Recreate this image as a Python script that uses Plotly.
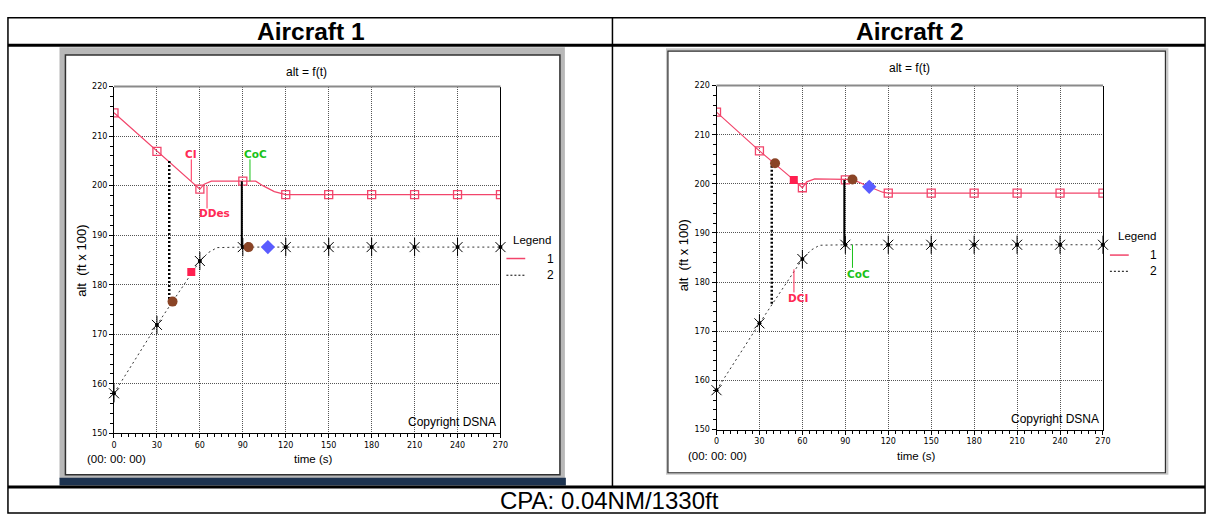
import plotly.graph_objects as go

W, H = 1219, 520

# ---------------- data (time in s, altitude in ft x 100) ----------------
t_marks = [0, 30, 60, 90, 120, 150, 180, 210, 240, 270]
x_ticks = [0, 30, 60, 90, 120, 150, 180, 210, 240, 270]
y_ticks = [150, 160, 170, 180, 190, 200, 210, 220]

# Aircraft 1 panel
ac1_s1_marks = [214.7, 206.9, 199.3, 200.9, 198.2, 198.2, 198.2, 198.2, 198.2, 198.2]
ac1_s1_path_t = [0, 30, 60, 63, 68, 90, 99, 104, 112, 120, 270]
ac1_s1_path = [214.7, 206.9, 199.3, 200.3, 200.9, 200.9, 200.9, 200.0, 198.8, 198.2, 198.2]
ac1_s2_marks = [158.1, 171.9, 184.8, 187.6, 187.6, 187.6, 187.6, 187.6, 187.6, 187.6]
ac1_s2_path_t = [0, 30, 60, 66, 72, 90, 270]
ac1_s2_path = [158.1, 171.9, 184.8, 186.5, 187.5, 187.6, 187.6]
ac1_brown_t = [40.9, 94.0]
ac1_brown_alt = [176.6, 187.6]
ac1_red_t = [54.0]
ac1_red_alt = [182.6]
ac1_blue_t = [107.5]
ac1_blue_alt = [187.6]
ac1_sep_dot = (38.6, 176.3, 205.2)
ac1_sep_solid = (89.3, 187.6, 200.9)
ac1_labels = [
    # text, colour, text t, text alt, leader t, leader from, leader to
    ("CI", "#ff2a55", 53.5, 206.4, 54.0, 201.0, 205.3),
    ("CoC", "#19c219", 99.0, 206.4, 95.0, 200.9, 205.3),
    ("DDes", "#ff2a55", 70.0, 194.4, 65.0, 199.9, 195.4),
]

# Aircraft 2 panel
ac2_s1_marks = [214.6, 206.7, 199.2, 200.8, 198.1, 198.1, 198.1, 198.1, 198.1, 198.1]
ac2_s1_path_t = [0, 30, 54, 60, 63, 68.6, 90, 95, 106.7, 116, 120, 270]
ac2_s1_path = [214.6, 206.7, 200.8, 199.2, 200.4, 201.0, 200.9, 200.9, 199.4, 198.3, 198.1, 198.1]
ac2_s2_marks = [158.0, 171.6, 184.7, 187.6, 187.6, 187.6, 187.6, 187.6, 187.6, 187.6]
ac2_s2_path_t = [0, 30, 60, 66, 72, 90, 270]
ac2_s2_path = [158.0, 171.6, 184.7, 186.5, 187.5, 187.6, 187.6]
ac2_brown_t = [40.9, 95.0]
ac2_brown_alt = [204.2, 200.9]
ac2_red_t = [54.0]
ac2_red_alt = [200.8]
ac2_blue_t = [106.7]
ac2_blue_alt = [199.4]
ac2_sep_dot = (38.6, 175.6, 203.8)
ac2_sep_solid = (89.3, 187.6, 200.8)
ac2_labels = [
    ("DCI", "#ff2a55", 56.7, 176.7, 54.1, 182.6, 177.9),
    ("CoC", "#19c219", 99.0, 181.7, 95.0, 187.6, 182.9),
]

RED = "#f2456b"
BROWN = "#8a4426"
BLUE = "#5a5cff"
SQ_RED = "#ff1f4f"


def px(x):
    return x / W


def py(y):
    return 1 - y / H


fig = go.Figure()


def add_panel(n, dom_x, dom_y, s1_marks, s1_pt, s1_p, s2_marks, s2_pt, s2_p,
              brown_t, brown_a, red_t, red_a, blue_t, blue_a, sep_dot, sep_solid, labels):
    xa = "x" if n == 1 else "x%d" % n
    ya = "y" if n == 1 else "y%d" % n
    kw = dict(xaxis=xa, yaxis=ya, showlegend=False, hoverinfo="skip")

    # series 2: dotted path with asterisk markers
    fig.add_trace(go.Scatter(x=s2_pt, y=s2_p, mode="lines",
                             line=dict(color="#333333", width=1, dash="2px,3px"), **kw))
    for sym, size in (("x-thin-open", 10), ("line-ns-open", 13)):
        fig.add_trace(go.Scatter(x=t_marks, y=s2_marks, mode="markers", cliponaxis=False,
                                 marker=dict(symbol=sym, size=size, color="black",
                                             line=dict(color="black", width=1)), **kw))
    fig.add_trace(go.Scatter(x=t_marks, y=s2_marks, mode="markers", cliponaxis=False,
                             marker=dict(symbol="circle", size=4, color="black"), **kw))

    # series 1: solid path with open squares
    fig.add_trace(go.Scatter(x=s1_pt, y=s1_p, mode="lines",
                             line=dict(color=RED, width=1.2), **kw))
    fig.add_trace(go.Scatter(x=t_marks, y=s1_marks, mode="markers",
                             marker=dict(symbol="square-open", size=8, color=RED,
                                         line=dict(color=RED, width=1.3)), **kw))

    # vertical separations
    fig.add_trace(go.Scatter(x=[sep_dot[0], sep_dot[0]], y=[sep_dot[1], sep_dot[2]], mode="lines",
                             line=dict(color="black", width=2.5, dash="2px,2px"), **kw))
    fig.add_trace(go.Scatter(x=[sep_solid[0], sep_solid[0]], y=[sep_solid[1], sep_solid[2]],
                             mode="lines", line=dict(color="black", width=2), **kw))

    # event markers
    fig.add_trace(go.Scatter(x=red_t, y=red_a, mode="markers",
                             marker=dict(symbol="square", size=8, color=SQ_RED), **kw))
    fig.add_trace(go.Scatter(x=brown_t, y=brown_a, mode="markers",
                             marker=dict(symbol="circle", size=10, color=BROWN), **kw))
    fig.add_trace(go.Scatter(x=blue_t, y=blue_a, mode="markers",
                             marker=dict(symbol="diamond", size=11, color=BLUE), **kw))

    # labelled events with leader lines
    for text, col, tx, ta, lt, l0, l1 in labels:
        fig.add_trace(go.Scatter(x=[lt, lt], y=[l0, l1], mode="lines",
                                 line=dict(color=col, width=1), **kw))
        fig.add_annotation(x=tx, y=ta, xref=xa, yref=ya, text="<b>%s</b>" % text,
                           showarrow=False,
                           font=dict(family="DejaVu Sans", size=10.5, color=col))

    axis_common = dict(
        showline=True, linecolor="black", linewidth=1,
        ticks="outside", ticklen=4, tickcolor="black", tickwidth=1,
        showgrid=True, gridcolor="#555555", griddash="1px,1px", gridwidth=1,
        zeroline=False, fixedrange=True,
        tickfont=dict(family="DejaVu Sans", size=8, color="black"),
    )
    fig.update_layout({
        ("xaxis" if n == 1 else "xaxis%d" % n): dict(
            domain=dom_x, range=[0, 270], tickmode="array", tickvals=x_ticks,
            anchor=ya, minor=dict(tick0=0, dtick=5, ticks="outside", ticklen=3,
                                  tickcolor="black", showgrid=False),
            **axis_common),
        ("yaxis" if n == 1 else "yaxis%d" % n): dict(
            domain=dom_y, range=[150, 220], tickmode="array", tickvals=y_ticks,
            anchor=xa, mirror=True,
            minor=dict(tick0=150, dtick=2, ticks="outside", ticklen=3,
                       tickcolor="black", showgrid=False),
            **axis_common),
    })


# plot-area pixel boxes
L = dict(x0=112, x1=502, y0=84, y1=437)
R = dict(x0=720, x1=1110, y0=83, y1=433)

shapes = []


def box(x0, y0, x1, y1, **kw):
    shapes.append(dict(type="rect", xref="paper", yref="paper",
                       x0=px(x0), x1=px(x1), y0=py(y0), y1=py(y1), **kw))


def seg(x0, y0, x1, y1, **kw):
    shapes.append(dict(type="line", xref="paper", yref="paper",
                       x0=px(x0), x1=px(x1), y0=py(y0), y1=py(y1), **kw))


# left window
box(57, 44, 567, 483, fillcolor="#b8b8b8", line=dict(width=0), layer="below")
box(63, 52, 562, 479, fillcolor="white", line=dict(color="#303030", width=1.5), layer="below")
box(57, 482, 568, 490, fillcolor="#1d3350", line=dict(width=0), layer="below")
# right window
box(669, 45, 1176, 479, fillcolor="#c8c8c8", line=dict(width=0), layer="below")
box(671, 48, 1173, 477, fillcolor="white", line=dict(color="#303030", width=1.2), layer="below")

# table lines
box(5, 14, 1213, 518, line=dict(color="black", width=1.5))
seg(5, 42, 1213, 42, line=dict(color="black", width=3))
seg(5, 491.5, 1213, 491.5, line=dict(color="black", width=3))
seg(615, 14, 615, 491, line=dict(color="black", width=1.5))

# gray top frame lines of the plot areas
for B in (L, R):
    seg(B["x0"], B["y0"], B["x1"], B["y0"], line=dict(color="#8a8a8a", width=2))

# legend keys
for lx, ly1, ly2 in ((508, 259, 276), (1117, 255.5, 272)):
    seg(lx, ly1, lx + 19, ly1, line=dict(color=RED, width=1.5))
    seg(lx, ly2, lx + 19, ly2, line=dict(color="black", width=1, dash="2px,2px"))

add_panel(1, [px(L["x0"]), px(L["x1"])], [py(L["y1"]), py(L["y0"])],
          ac1_s1_marks, ac1_s1_path_t, ac1_s1_path, ac1_s2_marks, ac1_s2_path_t, ac1_s2_path,
          ac1_brown_t, ac1_brown_alt, ac1_red_t, ac1_red_alt, ac1_blue_t, ac1_blue_alt,
          ac1_sep_dot, ac1_sep_solid, ac1_labels)
add_panel(2, [px(R["x0"]), px(R["x1"])], [py(R["y1"]), py(R["y0"])],
          ac2_s1_marks, ac2_s1_path_t, ac2_s1_path, ac2_s2_marks, ac2_s2_path_t, ac2_s2_path,
          ac2_brown_t, ac2_brown_alt, ac2_red_t, ac2_red_alt, ac2_blue_t, ac2_blue_alt,
          ac2_sep_dot, ac2_sep_solid, ac2_labels)


def text(x, y, s, size=11, family="Liberation Sans", xanchor="center", angle=0, color="black"):
    fig.add_annotation(x=px(x), y=py(y), xref="paper", yref="paper", text=s,
                       showarrow=False, xanchor=xanchor, yanchor="middle", textangle=angle,
                       font=dict(family=family, size=size, color=color))


# table header / footer
text(311, 28, "<b>Aircraft 1</b>", size=24.5, family="Liberation Sans")
text(915, 28, "<b>Aircraft 2</b>", size=24.5, family="Liberation Sans")
text(612, 505, "CPA: 0.04NM/1330ft", size=24, family="Liberation Sans")

# panel texts
for cx, ty, ylab_x, ylab_y, xl_y, tcx, cpx, cpy, lgx, lgy, n1y, n2y, nx, hx in (
        (306, 69, 79, 261, 463, 313, 453.5, 425, 513, 240, 259, 276, 552, 115),
        (915, 65, 687, 256, 460, 922, 1061.5, 422, 1123, 236, 255.5, 272, 1161, 721)):
    text(cx, ty, "alt = f(t)", size=12)
    text(ylab_x, ylab_y, "alt  (ft x 100)", size=13, angle=-90)
    text(tcx, xl_y, "time (s)", size=11.5)
    text(cpx, cpy, "Copyright DSNA", size=12)
    text(lgx, lgy, "Legend", size=11.5, xanchor="left")
    text(nx, n1y, "1", size=12)
    text(nx, n2y, "2", size=12)
    text(hx, xl_y, "(00: 00: 00)", size=11.5)

fig.update_layout(
    width=W, height=H, margin=dict(l=0, r=0, t=0, b=0),
    paper_bgcolor="white", plot_bgcolor="rgba(0,0,0,0)",
    shapes=shapes, showlegend=False,
)

fig.write_html("out.html")
